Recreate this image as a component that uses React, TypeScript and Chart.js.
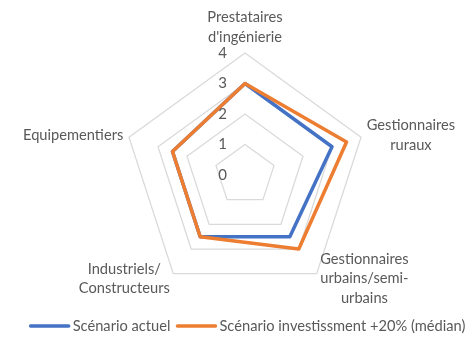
import React, { useEffect, useRef } from "react";
import { Chart, registerables } from "chart.js";

Chart.register(...registerables);

const categories: string[][] = [
  ["Prestataires", "d'ingénierie"],
  ["Gestionnaires", "ruraux"],
  ["Gestionnaires", "urbains/semi-", "urbains"],
  ["Industriels/", "Constructeurs"],
  ["Equipementiers"],
];
const seriesNames = ["Scénario actuel", "Scénario investissment +20% (médian)"];
const actuel = [3, 3, 2.5, 2.5, 2.5];
const investissement = [3, 3.5, 3, 2.5, 2.5];
const tickMin = 0;
const tickMax = 4;
const tickStep = 1;

const COLORS = ["#4472C4", "#ED7D31"];
const FONT = "Lato, 'Open Sans', sans-serif";
const TEXT = "#595959";
const FS = 14.67;

const radarText = {
  id: "radarText",
  afterDraw(chart: any) {
    const ctx = chart.ctx as CanvasRenderingContext2D;
    const scale = chart.scales.r;
    ctx.save();
    ctx.fillStyle = TEXT;
    ctx.textBaseline = "middle";

    // tick labels
    ctx.font = `15px ${FONT}`;
    ctx.textAlign = "center";
    for (const t of scale.ticks) {
      const d = scale.getDistanceFromCenterForValue(t.value);
      ctx.fillText(String(t.value), scale.xCenter - 22.5, scale.yCenter - d);
    }

    // point labels
    const lh = 19.5;
    ctx.font = `${FS}px ${FONT}`;
    const labels = chart.data.labels as string[][];
    labels.forEach((lines, i) => {
      const angle = scale.getIndexAngle(i) - Math.PI / 2;
      const p = scale.getPointPosition(i, scale.drawingArea + 6);
      const ux = Math.cos(angle);
      const uy = Math.sin(angle);
      const w = Math.max(...lines.map((s) => ctx.measureText(s).width));
      const h = lines.length * lh;
      let left = p.x - w / 2;
      if (ux > 0.1) left = p.x;
      else if (ux < -0.1) left = p.x - w;
      let top = p.y - h / 2;
      if (uy < -0.9) top = p.y - h;
      else if (uy > 0.9) top = p.y;
      ctx.textAlign = "center";
      lines.forEach((s, k) => {
        ctx.fillText(s, left + w / 2, top + lh * (k + 0.5));
      });
    });

    // legend
    ctx.font = `${FS}px ${FONT}`;
    const lineLen = 42;
    const gapLT = 2;
    const gapItems = 5;
    const items = chart.data.datasets.map((ds: any) => ({
      text: ds.label,
      color: ds.borderColor,
      w: ctx.measureText(ds.label).width,
    }));
    const total =
      items.reduce((a: number, it: any) => a + lineLen + gapLT + it.w, 0) +
      gapItems * (items.length - 1);
    let x = 247 - total / 2;
    const y = 326;
    ctx.textAlign = "left";
    for (const it of items) {
      ctx.strokeStyle = it.color;
      ctx.lineWidth = 3.5;
      ctx.lineCap = "round";
      ctx.beginPath();
      ctx.moveTo(x + 2, y);
      ctx.lineTo(x + lineLen - 2, y);
      ctx.stroke();
      x += lineLen + gapLT;
      ctx.fillText(it.text, x, y);
      x += it.w + gapItems;
    }
    ctx.restore();
  },
};

export default function App() {
  const ref = useRef<HTMLCanvasElement>(null);
  useEffect(() => {
    document.body.style.margin = "0";
    const chart = new Chart(ref.current!, {
      type: "radar",
      data: {
        labels: categories as any,
        datasets: [
          {
            label: seriesNames[0],
            data: actuel,
            borderColor: COLORS[0],
            backgroundColor: COLORS[0],
            borderWidth: 3.5,
            pointRadius: 0,
            fill: false,
            tension: 0,
            borderJoinStyle: "round",
            order: 1,
          },
          {
            label: seriesNames[1],
            data: investissement,
            borderColor: COLORS[1],
            backgroundColor: COLORS[1],
            borderWidth: 3.5,
            pointRadius: 0,
            fill: false,
            tension: 0,
            borderJoinStyle: "round",
            order: 0,
          },
        ],
      },
      options: {
        responsive: false,
        animation: false,
        layout: { padding: { top: 53, bottom: 40, left: 95, right: 72 } },
        plugins: { legend: { display: false }, tooltip: { enabled: false } },
        scales: {
          r: {
            min: tickMin,
            max: tickMax,
            ticks: { stepSize: tickStep, display: false },
            grid: { color: "#d9d9d9", lineWidth: 1.25 },
            angleLines: { display: false },
            pointLabels: { display: false },
          },
        },
      },
      plugins: [radarText],
    });
    return () => chart.destroy();
  }, []);
  return (
    <div style={{ width: 467, height: 337 }}>
      <canvas ref={ref} width={467} height={337} />
    </div>
  );
}
